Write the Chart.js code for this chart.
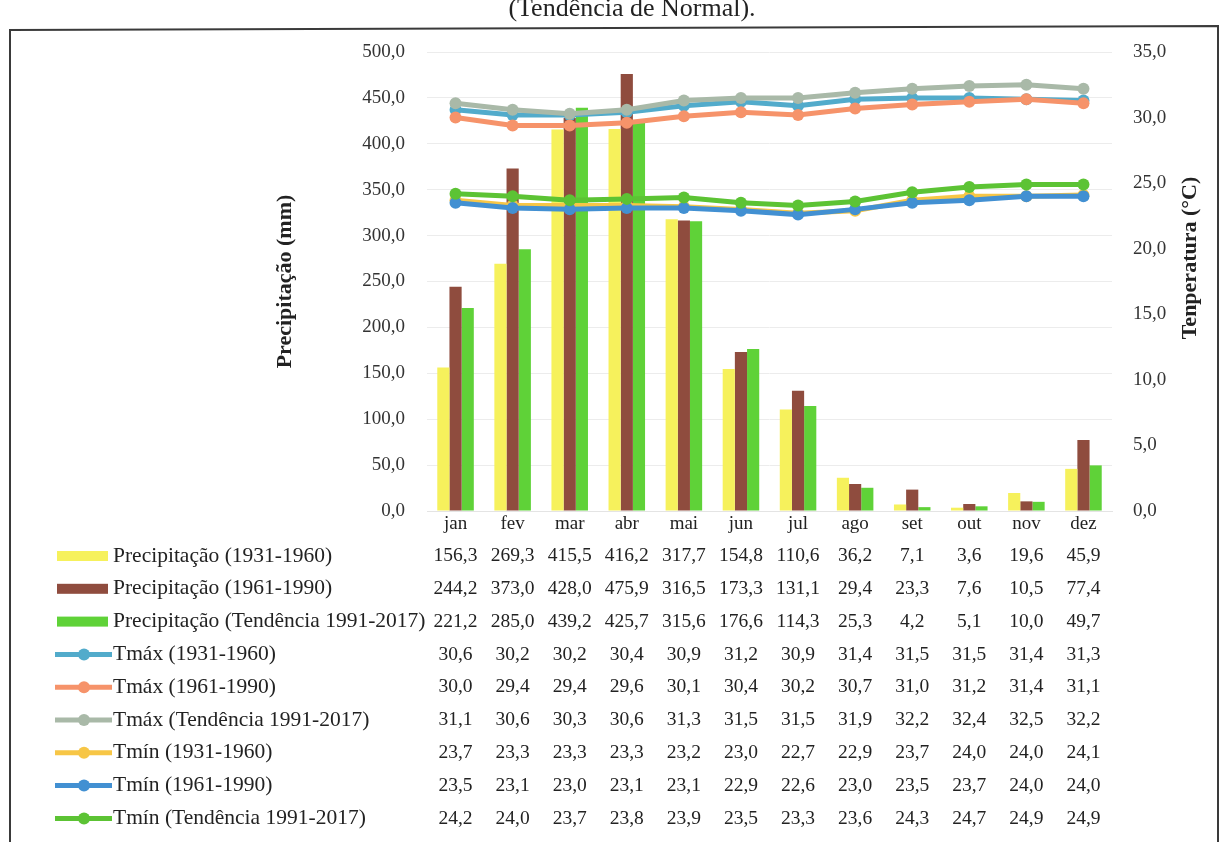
<!DOCTYPE html>
<html>
<head>
<meta charset="utf-8">
<script src="https://cdn.jsdelivr.net/npm/chart.js@4.4.1/dist/chart.umd.min.js"></script>
<style>
  body { margin: 0; background: #fff; }
  #wrap { width: 1220px; height: 842px; }
</style>
</head>
<body>
<div id="wrap"><canvas id="clima-chart" width="1220" height="842"></canvas></div>
<script>
// Dữ liệu đọc từ bảng
const months = ["jan", "fev", "mar", "abr", "mai", "jun", "jul", "ago", "set", "out", "nov", "dez"];
const precip1931 = [156.3, 269.3, 415.5, 416.2, 317.7, 154.8, 110.6, 36.2, 7.1, 3.6, 19.6, 45.9];
const precip1961 = [244.2, 373.0, 428.0, 475.9, 316.5, 173.3, 131.1, 29.4, 23.3, 7.6, 10.5, 77.4];
const precipTend = [221.2, 285.0, 439.2, 425.7, 315.6, 176.6, 114.3, 25.3, 4.2, 5.1, 10.0, 49.7];
const tmax1931 = [30.6, 30.2, 30.2, 30.4, 30.9, 31.2, 30.9, 31.4, 31.5, 31.5, 31.4, 31.3];
const tmax1961 = [30.0, 29.4, 29.4, 29.6, 30.1, 30.4, 30.2, 30.7, 31.0, 31.2, 31.4, 31.1];
const tmaxTend = [31.1, 30.6, 30.3, 30.6, 31.3, 31.5, 31.5, 31.9, 32.2, 32.4, 32.5, 32.2];
const tmin1931 = [23.7, 23.3, 23.3, 23.3, 23.2, 23.0, 22.7, 22.9, 23.7, 24.0, 24.0, 24.1];
const tmin1961 = [23.5, 23.1, 23.0, 23.1, 23.1, 22.9, 22.6, 23.0, 23.5, 23.7, 24.0, 24.0];
const tminTend = [24.2, 24.0, 23.7, 23.8, 23.9, 23.5, 23.3, 23.6, 24.3, 24.7, 24.9, 24.9];

const SERIF = '"Liberation Serif", "Times New Roman", serif';
Chart.defaults.font.family = SERIF;
Chart.defaults.color = "#2a2a2a";

function fmt(v) {
  return v.toFixed(1).replace(".", ",");
}

function bar(label, data, color) {
  return { type: "bar", label: label, data: data, backgroundColor: color, yAxisID: "y", order: 10 };
}
function line(label, data, color, order) {
  return {
    type: "line", label: label, data: data, yAxisID: "y1", order: order,
    borderColor: color, backgroundColor: color, borderWidth: 5,
    pointRadius: 6, pointBackgroundColor: color, pointBorderWidth: 0, tension: 0
  };
}

const datasets = [
  bar("Precipitação (1931-1960)", precip1931, "#f6f15c"),
  bar("Precipitação (1961-1990)", precip1961, "#8f4c3e"),
  bar("Precipitação (Tendência 1991-2017)", precipTend, "#5fd238"),
  line("Tmáx (1931-1960)", tmax1931, "#52abcb", 6),
  line("Tmáx (1961-1990)", tmax1961, "#f6936a", 5),
  line("Tmáx (Tendência 1991-2017)", tmaxTend, "#a9b9a8", 4),
  line("Tmín (1931-1960)", tmin1931, "#f7c646", 3),
  line("Tmín (1961-1990)", tmin1961, "#4290d2", 2),
  line("Tmín (Tendência 1991-2017)", tminTend, "#5cc334", 1)
];

// Vẽ khung, tiêu đề và bảng dữ liệu bên dưới
const tablePlugin = {
  id: "tablePlugin",
  afterDraw(chart) {
    const ctx = chart.ctx;
    const x = chart.scales.x;
    ctx.save();

    // khung viền
    ctx.strokeStyle = "#3a3a3a";
    ctx.lineWidth = 2;
    ctx.beginPath();
    ctx.moveTo(10, 842);
    ctx.lineTo(10, 30);
    ctx.lineTo(1218, 26);
    ctx.lineTo(1218, 842);
    ctx.stroke();

    // tiêu đề bị cắt ở trên
    ctx.fillStyle = "#222";
    ctx.font = "26px " + SERIF;
    ctx.textAlign = "center";
    ctx.textBaseline = "alphabetic";
    ctx.fillText("(Tendência de Normal).", 632, 16);

    // tiêu đề trục phải (xoay ngược)
    ctx.save();
    ctx.translate(1190, 258);
    ctx.rotate(-Math.PI / 2);
    ctx.font = "bold 22px " + SERIF;
    ctx.textBaseline = "middle";
    ctx.fillText("Tenperatura (°C)", 0, 0);
    ctx.restore();

    // bảng
    ctx.textBaseline = "middle";
    chart.data.datasets.forEach((ds, r) => {
      const y = 556 + r * 32.8;
      if (ds.type === "bar") {
        ctx.fillStyle = ds.backgroundColor;
        ctx.fillRect(57, y - 5, 51, 10);
      } else {
        ctx.strokeStyle = ds.borderColor;
        ctx.lineWidth = 5;
        ctx.beginPath();
        ctx.moveTo(55, y);
        ctx.lineTo(112, y);
        ctx.stroke();
        ctx.fillStyle = ds.borderColor;
        ctx.beginPath();
        ctx.arc(84, y, 6, 0, Math.PI * 2);
        ctx.fill();
      }
      ctx.fillStyle = "#222";
      ctx.textAlign = "left";
      ctx.font = "21.5px " + SERIF;
      ctx.fillText(ds.label, 113, y);
      ctx.textAlign = "center";
      ctx.font = "19.5px " + SERIF;
      ds.data.forEach((v, i) => {
        ctx.fillText(fmt(v), x.getPixelForValue(i), y);
      });
    });
    ctx.restore();
  }
};

const ctx = document.getElementById("clima-chart").getContext("2d");
new Chart(ctx, {
  data: { labels: months, datasets: datasets },
  options: {
    responsive: false,
    animation: false,
    layout: { padding: { left: 268, right: 16, top: 52, bottom: 302 } },
    plugins: { legend: { display: false }, tooltip: { enabled: false } },
    datasets: { bar: { categoryPercentage: 0.64, barPercentage: 1.0 } },
    scales: {
      x: {
        grid: { display: false, drawTicks: false },
        border: { display: true, color: "#e4e4e4" },
        ticks: { font: { size: 19 }, padding: 2, maxRotation: 0, color: "#222" },
        afterFit(scale) { scale.height = 29; }
      },
      y: {
        position: "left",
        min: 0, max: 500,
        grid: { color: "#ececec", drawTicks: false },
        border: { display: false },
        ticks: { stepSize: 50, padding: 22, font: { size: 19 }, color: "#333", callback: (v) => fmt(v) },
        title: { display: true, text: "Precipitação (mm)", font: { size: 22, weight: "bold" }, color: "#222" },
        afterFit(scale) { scale.width = 427 - 268; }
      },
      y1: {
        position: "right",
        min: 0, max: 35,
        grid: { display: false, drawTicks: false },
        border: { display: false },
        ticks: { stepSize: 5, padding: 21, font: { size: 19 }, color: "#333", callback: (v) => fmt(v) },
        afterFit(scale) { scale.width = 92; }
      }
    }
  },
  plugins: [tablePlugin]
});
</script>
</body>
</html>
